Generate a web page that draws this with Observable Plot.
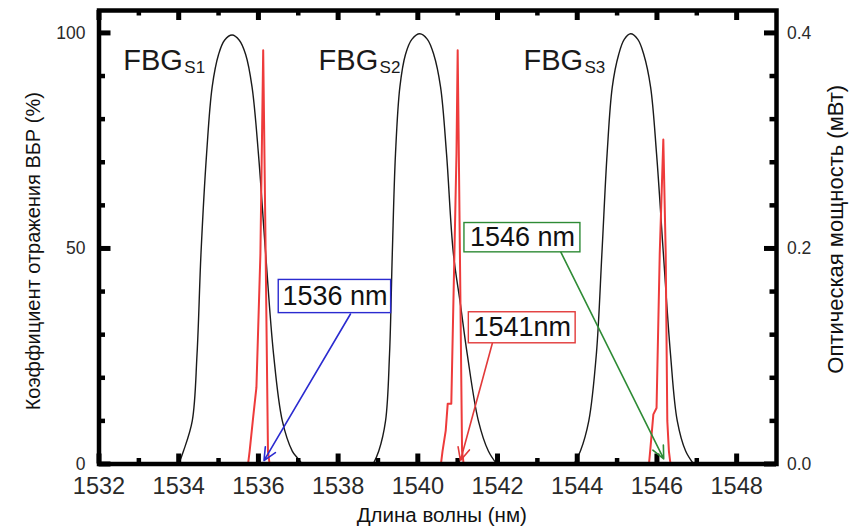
<!DOCTYPE html>
<html>
<head>
<meta charset="utf-8">
<script src="https://cdn.jsdelivr.net/npm/d3@7"></script>
<script src="https://cdn.jsdelivr.net/npm/@observablehq/plot@0.6"></script>
<style>
  body { margin: 0; background: #fff; }
  #chart svg { display: block; }
</style>
</head>
<body>
<div id="chart"></div>
<script>
// ---------- data (wavelength nm, reflectance %) ----------
const fbgS1 = [[1534.0,0],[1534.12,3],[1534.34,10],[1534.46,25.5],[1534.56,49],[1534.70,72],[1534.84,87.5],[1535.0,95],[1535.15,98.3],[1535.34,99.5],[1535.52,98.3],[1535.68,95],[1535.84,87.5],[1536.0,72],[1536.18,49],[1536.38,25.5],[1536.60,10],[1536.85,3],[1536.97,1.5],[1537.1,0]];
const fbgS2 = [[1538.88,0],[1539.02,3],[1539.19,10],[1539.29,25.5],[1539.36,49],[1539.44,72],[1539.55,87.5],[1539.69,95],[1539.85,98.5],[1540.05,99.8],[1540.24,98.5],[1540.40,95],[1540.57,87.5],[1540.72,72],[1540.89,49],[1541.07,37],[1541.24,25.5],[1541.52,10],[1541.77,3],[1541.98,0]];
const fbgS3 = [[1543.92,0],[1544.08,3],[1544.29,10],[1544.48,25.5],[1544.62,49],[1544.75,72],[1544.88,87.5],[1545.04,95],[1545.18,98.5],[1545.34,99.8],[1545.52,98.5],[1545.67,95],[1545.84,87.5],[1545.99,72],[1546.16,49],[1546.34,25.5],[1546.51,10],[1546.72,3],[1546.92,0]];
const fbgCurves = [fbgS1, fbgS2, fbgS3];

// optical spectrum (wavelength nm, power mW)
const spectrum = [
  [1532.5,0],[1535.74,0],[1535.78,0.012],[1535.87,0.044],[1535.95,0.071],[1536.05,0.195],[1536.12,0.384],[1536.18,0.2],[1536.24,0.012],[1536.28,0],
  [1540.58,0],[1540.62,0.012],[1540.70,0.031],[1540.75,0.056],[1540.84,0.056],[1540.97,0.288],[1541.0,0.384],[1541.04,0.25],[1541.11,0.012],[1541.15,0],
  [1545.8,0],[1545.83,0.012],[1545.91,0.046],[1545.99,0.052],[1546.07,0.195],[1546.16,0.301],[1546.22,0.195],[1546.26,0.04],[1546.30,0.012],[1546.34,0],
  [1547.5,0]
];

// tick values
const xTickLabels = [1532,1534,1536,1538,1540,1542,1544,1546,1548];
const xMinorTicks = [1533,1535,1537,1539,1541,1543,1545,1547];
const yTickLabels = [0,50,100];
const yMinorTicks = [10,20,30,40,60,70,80,90];
const pTickLabels = [0.0,0.2,0.4];
const pMinorTicks = [0.04,0.08,0.12,0.16,0.24,0.28,0.32,0.36];
const pMax = 0.4, rMax = 100; // right axis 0.4 mW aligns with 100 %

// labels
const fbgNames = ["FBG","FBG","FBG"];
const fbgSubs = ["S1","S2","S3"];
const fbgLabelX = [1532.61, 1537.51, 1542.65];
const fbgLabelLevel = 91.3;

const calloutText = ["1536 nm","1541nm","1546 nm"];
const calloutColor = ["#2b2bd0","#e23a3a","#2e8b35"];
const calloutBox = [[1536.51,1539.33,35.0,42.7],[1541.28,1543.96,28.0,35.2],[1541.17,1544.08,49.1,55.9]];
const calloutArrow = [[1538.31,34.8,1536.14,0.8],[1541.87,28.0,1541.07,0.8],[1543.58,49.3,1546.17,1.2]];

const xTitle = "Длина волны (нм)";
const yTitle = "Коэффициент отражения ВБР (%)";
const y2Title = "Оптическая мощность (мВт)";

// ---------- build ----------
const W = 858, H = 529, mL = 98.5, mR = 82, mT = 10, mB = 65.5;
const plotH = H - mT - mB, plotW = W - mL - mR;
const toPct = p => p * rMax / pMax;

const fbgData = fbgCurves.flatMap((c, i) => c.map(([x, y]) => ({x, y, id: i})));
const specData = spectrum.map(([x, p]) => ({x, y: toPct(p)}));
const fbgLabels = fbgNames.map((n, i) => ({name: n, sub: fbgSubs[i], x: fbgLabelX[i]}));
const callouts = calloutText.map((t, i) => ({
  label: t, color: calloutColor[i],
  x1: calloutBox[i][0], x2: calloutBox[i][1], y1: calloutBox[i][2], y2: calloutBox[i][3],
  ax: calloutArrow[i][0], ay: calloutArrow[i][1], tx: calloutArrow[i][2], ty: calloutArrow[i][3]
}));

const font = "'Liberation Sans', Arial, sans-serif";

const chart = Plot.plot({
  width: W, height: H,
  marginLeft: mL, marginRight: mR, marginTop: mT, marginBottom: mB,
  x: {domain: [1532, 1549], axis: null},
  y: {domain: [0, 105.2], axis: null},
  color: {type: "identity"},
  style: {fontFamily: font, background: "white", color: "#111"},
  marks: [
    // FBG reflection curves
    Plot.line(fbgData, {x: "x", y: "y", z: "id", stroke: "#1a1a1a", strokeWidth: 1.4, curve: "catmull-rom"}),
    // optical spectrum
    Plot.line(specData, {x: "x", y: "y", stroke: "#ee3b3b", strokeWidth: 2}),
    Plot.line(specData, {x: "x", y: d => d.y === 0 ? 0 : NaN, stroke: "#b80f0f", strokeWidth: 3.6}),
    // frame & inward ticks
    Plot.frame({stroke: "black", strokeWidth: 4.5}),
    Plot.tickX(xTickLabels, {x: d => d, insetTop: plotH - 10, stroke: "black", strokeWidth: 5}),
    Plot.tickX(xMinorTicks, {x: d => d, insetTop: plotH - 5.5, stroke: "black", strokeWidth: 4.5}),
    Plot.tickX(xTickLabels, {x: d => d, insetBottom: plotH - 10, stroke: "black", strokeWidth: 5}),
    Plot.tickX(xMinorTicks, {x: d => d, insetBottom: plotH - 5.5, stroke: "black", strokeWidth: 4.5}),
    Plot.tickY(yTickLabels, {y: d => d, insetRight: plotW - 12, stroke: "black", strokeWidth: 5}),
    Plot.tickY(yMinorTicks, {y: d => d, insetRight: plotW - 6.5, stroke: "black", strokeWidth: 4.5}),
    Plot.tickY(pTickLabels, {y: d => toPct(d), insetLeft: plotW - 12, stroke: "black", strokeWidth: 5}),
    Plot.tickY(pMinorTicks, {y: d => toPct(d), insetLeft: plotW - 6.5, stroke: "black", strokeWidth: 4.5}),
    // tick labels
    Plot.text(xTickLabels, {x: d => d, text: d => String(d), frameAnchor: "bottom", lineAnchor: "top", dy: 13.5, fontSize: 23.5, fill: "#2a2a2a"}),
    Plot.text(yTickLabels, {y: d => d, text: d => String(d), frameAnchor: "left", textAnchor: "end", dx: -13.5, fontSize: 17.5, fill: "#2a2a2a"}),
    Plot.text(pTickLabels, {y: d => toPct(d), text: d => d.toFixed(1), frameAnchor: "right", textAnchor: "start", dx: 10.5, fontSize: 17.5, fill: "#2a2a2a"}),
    // FBG labels
    Plot.text(fbgLabels, {x: "x", y: fbgLabelLevel, text: "name", textAnchor: "start", lineAnchor: "bottom", fontSize: 29, fill: "#1a1a1a"}),
    Plot.text(fbgLabels, {x: "x", y: fbgLabelLevel, text: "sub", textAnchor: "start", lineAnchor: "bottom", dx: 61, dy: 2.5, fontSize: 17, fill: "#1a1a1a"}),
    // callouts
    Plot.arrow(callouts, {x1: "ax", y1: "ay", x2: "tx", y2: "ty", stroke: d => d.color, strokeWidth: 1.6, headLength: 13, headAngle: 50}),
    Plot.rect(callouts, {x1: "x1", x2: "x2", y1: "y1", y2: "y2", fill: "white", stroke: d => d.color, strokeWidth: 1.4}),
    Plot.text(callouts, {x: d => (d.x1 + d.x2) / 2, y: d => (d.y1 + d.y2) / 2, text: "label", fontSize: 27, fill: "#111"}),
    // axis titles
    Plot.text([xTitle], {text: d => d, frameAnchor: "bottom", lineAnchor: "bottom", dy: 58, dx: 4, fontSize: 20.5, fill: "#111"}),
    Plot.text([yTitle], {text: d => d, frameAnchor: "left", textAnchor: "middle", rotate: -90, dx: -65.5, dy: 14, fontSize: 20, fill: "#111"}),
    Plot.text([y2Title], {text: d => d, frameAnchor: "right", textAnchor: "middle", rotate: -90, dx: 59, dy: -8, fontSize: 22, fill: "#111"})
  ]
});
document.getElementById("chart").appendChild(chart);
</script>
</body>
</html>
